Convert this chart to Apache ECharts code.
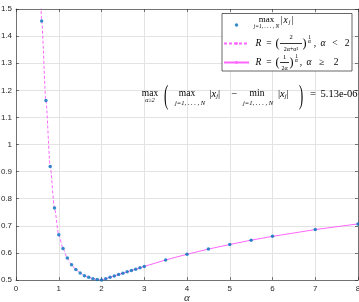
<!DOCTYPE html>
<html><head><meta charset="utf-8">
<script src="https://cdn.jsdelivr.net/npm/echarts@6/dist/echarts.min.js"></script>
<style>html,body{margin:0;padding:0;background:#fff}#c{width:359px;height:302px}</style>
</head><body><div id="c"></div>
<script>
// ---- data ----
const alphaDots = [0.6,0.7,0.8,0.9,1.0,1.1,1.2,1.3,1.4,1.5,1.6,1.7,1.8,1.9,2.0,2.1,2.2,2.3,2.4,2.5,2.6,2.7,2.8,2.9,3.0,3.5,4,4.5,5,5.5,6,7,8];
const maxAbsX  = [1.456,1.162,0.919,0.766,0.667,0.616,0.581,0.556,0.539,0.526,0.516,0.510,0.505,0.502,0.500,0.505,0.510,0.515,0.520,0.525,0.530,0.535,0.540,0.545,0.550,0.574,0.595,0.614,0.631,0.647,0.661,0.686,0.707];
const alphaLow = [0.58,0.6,0.7,0.8,0.9,1.0,1.1,1.2,1.3,1.4,1.5,1.6,1.7,1.8,1.9,2.0];
const rLow     = [1.53,1.456,1.162,0.919,0.766,0.667,0.616,0.581,0.556,0.539,0.526,0.516,0.510,0.505,0.502,0.500];
const alphaHigh = [2.0,2.1,2.2,2.3,2.4,2.5,2.6,2.7,2.8,2.9,3.0,3.5,4,4.5,5,5.5,6,7,8];
const rHigh     = [0.500,0.505,0.510,0.515,0.520,0.525,0.530,0.535,0.540,0.545,0.550,0.574,0.595,0.614,0.631,0.647,0.661,0.686,0.707];
const xTicks = [0,1,2,3,4,5,6,7,8];
const yTicks = ['0.5','0.6','0.7','0.8','0.9','1','1.1','1.2','1.3','1.4','1.5'];
const annotationValue = '5.13e-06';

const SERIF = 'Liberation Serif';
const SANS = 'Liberation Sans';
const AX = '#262626';
const MAG = '#ff66ff';
const SUBTXT = 'j=1, . . . , N';

// rich-text helper for the legend labels
const rich = {}; let cnt = 0;
function T(text, st) {
  const name = 's' + (cnt++);
  rich[name] = Object.assign({align: 'center', fontFamily: SERIF, fontSize: 9.5, color: '#000'}, st);
  return '{' + name + '|' + text + '}';
}
const B = (w, lh) => T(' ', {width: w, lineHeight: lh, fontSize: 4});

const lab1 =
  T('max', {width: 25, fontSize: 9, lineHeight: 12}) + B(1, 12) + T('|', {width: 3, lineHeight: 12}) +
  T('x', {width: 5, fontStyle: 'italic', lineHeight: 12}) +
  T('j', {width: 3, fontStyle: 'italic', fontSize: 6, lineHeight: 12, verticalAlign: 'bottom', height: 8}) +
  T('|', {width: 3, lineHeight: 12}) + B(58, 12) + '\n' +
  T(SUBTXT, {width: 25, fontSize: 5.5, fontStyle: 'italic', lineHeight: 10, verticalAlign: 'top', height: 1}) + B(73, 10);

const lab2 =
  B(26, 5) + T('2', {width: 22, fontSize: 6.5, lineHeight: 5}) + B(5, 5) +
  T('1', {width: 5, fontSize: 5.5, lineHeight: 5, verticalAlign: 'bottom', height: 5}) + B(40, 5) + '\n' +
  T('R', {width: 9, fontStyle: 'italic', lineHeight: 7}) + T('=', {width: 12, lineHeight: 7}) +
  T('(', {width: 5, fontSize: 12, lineHeight: 7}) +
  T(' ', {width: 22, fontSize: 1, height: 0.8, backgroundColor: '#000', lineHeight: 7}) +
  T(')', {width: 5, fontSize: 12, lineHeight: 7}) +
  T('α', {width: 5, fontSize: 5.5, fontStyle: 'italic', lineHeight: 7, verticalAlign: 'top', height: 4}) +
  T(',', {width: 6, lineHeight: 7}) + T('α', {width: 10, fontStyle: 'italic', lineHeight: 7}) +
  T('<', {width: 14, lineHeight: 7}) + T('2', {width: 10, lineHeight: 7}) + '\n' +
  B(26, 5) + T('2α+α²', {width: 22, fontSize: 6, lineHeight: 5}) + B(50, 5);

const lab3 =
  B(26, 4) + T('1', {width: 9, fontSize: 6.5, lineHeight: 4}) + B(5, 4) +
  T('1', {width: 5, fontSize: 5.5, lineHeight: 4, verticalAlign: 'bottom', height: 5}) + B(53, 4) + '\n' +
  T('R', {width: 9, fontStyle: 'italic', lineHeight: 7}) + T('=', {width: 12, lineHeight: 7}) +
  T('(', {width: 5, fontSize: 12, lineHeight: 7}) +
  T(' ', {width: 9, fontSize: 1, height: 0.8, backgroundColor: '#000', lineHeight: 7}) +
  T(')', {width: 5, fontSize: 12, lineHeight: 7}) +
  T('α', {width: 5, fontSize: 5.5, fontStyle: 'italic', lineHeight: 7, verticalAlign: 'top', height: 4}) +
  T(',', {width: 4, lineHeight: 7}) + T('α', {width: 12, fontStyle: 'italic', lineHeight: 7}) +
  T('≥', {width: 13, lineHeight: 7}) + T('2', {width: 16, lineHeight: 7}) + B(8, 7) + '\n' +
  B(26, 4) + T('2α', {width: 9, fontSize: 6, lineHeight: 4}) + B(63, 4);

const labels = {maxabs: lab1, Rlow: lab2, Rhigh: lab3};

function absXj(x, y) {
  return {
    type: 'text', x: x, y: y, z: 100,
    style: {
      text: '{n||}{i|x}{s|j}{n||}', x: 0, y: 0, align: 'left', verticalAlign: 'middle',
      rich: {
        n: {fontFamily: SERIF, fontSize: 10.5, fill: '#000'},
        i: {fontFamily: SERIF, fontSize: 10.5, fontStyle: 'italic', fill: '#000'},
        s: {fontFamily: SERIF, fontSize: 6.5, fontStyle: 'italic', fill: '#000', verticalAlign: 'bottom', height: 8, lineHeight: 13}
      }
    }
  };
}
function txt(t, x, y, size, extra) {
  return {type: 'text', x: x, y: y, z: 100,
    style: Object.assign({text: t, x: 0, y: 0, align: 'center', verticalAlign: 'middle',
      fontFamily: SERIF, fontSize: size, fill: '#000'}, extra || {})};
}
const MY = 94, SY = 103;

const chart = echarts.init(document.getElementById('c'), null, {renderer: 'canvas'});
const axisCommon = {
  type: 'value', axisLine: {show: true, onZero: false, lineStyle: {color: AX, width: 0.6}},
  axisTick: {show: true, inside: true, length: 3, lineStyle: {color: AX, width: 0.6}},
};
chart.setOption({
  animation: false,
  backgroundColor: '#fff',
  grid: {left: 16, right: 1, top: 9, bottom: 22, containLabel: false, outerBoundsMode: 'none'},
  xAxis: [
    Object.assign({}, axisCommon, {
      position: 'bottom', min: 0, max: 8, interval: 1,
      splitLine: {show: true, lineStyle: {color: '#e3e3e3', width: 1}},
      axisLabel: {fontFamily: SANS, fontSize: 8, color: AX, margin: 5,
        formatter: v => String(xTicks[Math.round(v)])},
      name: 'α', nameLocation: 'middle', nameGap: 18, nameMoveOverlap: false,
      nameTextStyle: {fontFamily: SERIF, fontStyle: 'italic', fontSize: 11, color: AX, verticalAlign: 'middle'}
    }),
    Object.assign({}, axisCommon, {
      position: 'top', min: 0, max: 8, interval: 1,
      splitLine: {show: false}, axisLabel: {show: false}
    })
  ],
  yAxis: [
    Object.assign({}, axisCommon, {
      position: 'left', min: 0.5, max: 1.5, interval: 0.1,
      splitLine: {show: true, lineStyle: {color: '#e3e3e3', width: 1}},
      axisLabel: {fontFamily: SANS, fontSize: 8, color: AX, margin: 4,
        formatter: v => yTicks[Math.round((v - 0.5) * 10)]}
    }),
    Object.assign({}, axisCommon, {
      position: 'right', min: 0.5, max: 1.5, interval: 0.1,
      splitLine: {show: false}, axisLabel: {show: false}
    })
  ],
  legend: {
    orient: 'vertical', left: 222, top: 13.5,
    itemWidth: 25, itemHeight: 3.5, itemGap: 1,
    padding: [1.5, 0, 0, 1],
    backgroundColor: '#fff', borderColor: AX, borderWidth: 0.7,
    selectedMode: false,
    data: [{name: 'maxabs', icon: 'circle'}, {name: 'Rlow'}, {name: 'Rhigh'}],
    formatter: name => labels[name],
    textStyle: {fontFamily: SERIF, fontSize: 9.5, color: '#000', rich: rich}
  },
  series: [
    {name: 'Rlow', type: 'line', xAxisIndex: 0, yAxisIndex: 0, symbol: 'none', smooth: 0.25, smoothMonotone: 'x',
      clip: true, z: 2,
      lineStyle: {color: MAG, width: 1, type: [3, 2]}, itemStyle: {color: MAG},
      data: alphaLow.map((a, i) => [a, rLow[i]])},
    {name: 'Rhigh', type: 'line', xAxisIndex: 0, yAxisIndex: 0, symbol: 'none', smooth: false,
      clip: true, z: 2,
      lineStyle: {color: MAG, width: 1}, itemStyle: {color: MAG},
      data: alphaHigh.map((a, i) => [a, rHigh[i]])},
    {name: 'maxabs', type: 'scatter', xAxisIndex: 0, yAxisIndex: 0, symbol: 'circle', symbolSize: 3.5,
      z: 3, clip: false,
      itemStyle: {color: '#0072BD'},
      data: alphaDots.map((a, i) => [a, maxAbsX[i]])}
  ],
  graphic: [
    txt('max', 150, MY - 1, 9.5),
    txt('α≥2', 150, MY + 6.5, 6, {fontStyle: 'italic'}),
    Object.assign(txt('(', 166, MY + 3, 28), {scaleX: 0.45}),
    txt('max', 187, MY - 1, 9.5),
    txt(SUBTXT, 190, SY, 6.5, {fontStyle: 'italic'}),
    absXj(209.5, MY),
    txt('−', 234.5, MY, 10.5),
    txt('min', 257, MY - 1, 9.5),
    txt(SUBTXT, 258, SY, 6.5, {fontStyle: 'italic'}),
    absXj(278, MY),
    Object.assign(txt(')', 301, MY + 3, 28), {scaleX: 0.45}),
    txt('=', 313, MY, 10.5),
    txt(annotationValue, 320.5, MY, 10.5, {align: 'left'})
  ]
});
</script></body></html>
